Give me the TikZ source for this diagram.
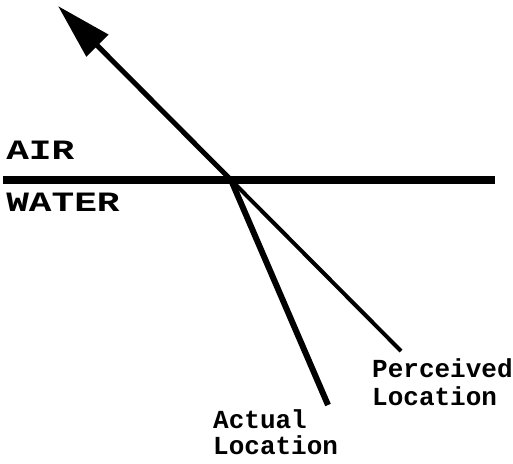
\documentclass[tikz,border=0pt]{standalone}
\usepackage{fontspec}
\setmonofont{Liberation Mono}
\usetikzlibrary{arrows.meta}
\tikzset{
  ray/.style={line width=#1, line cap=butt},
  lbl/.style={font=\ttfamily\bfseries\fontsize{26}{#1}\selectfont, inner sep=0pt, align=left, anchor=base west},
  medium/.style={font=\ttfamily\bfseries\fontsize{28}{28}\selectfont, inner sep=0pt, anchor=base west, xscale=1.35}
}
\begin{document}
\begin{tikzpicture}[x=1pt,y=1pt]
\useasboundingbox (0,0) rectangle (513,463);
\coordinate (o) at (231,283);
\coordinate (surfL) at (3,283);
\coordinate (surfR) at (495,283);
\coordinate (tip) at (58,457);
\coordinate (act) at (328,58);
\coordinate (per) at (401,112);
\draw[ray=8pt] (surfL) -- (surfR);
\draw[ray=5pt, -{Triangle[length=56pt,width=30pt]}] (o) -- (tip);
\draw[ray=6pt] (o) -- (act);
\draw[ray=4pt] (o) -- (per);
\node[medium] (air) at (6,303) {AIR};
\node[medium] (water) at (6,251) {WATER};
\node[lbl=28] (perceived) at (372,58) {Perceived\\Location};
\node[lbl=26] (actual) at (213,9) {Actual\\Location};
\end{tikzpicture}
\end{document}
